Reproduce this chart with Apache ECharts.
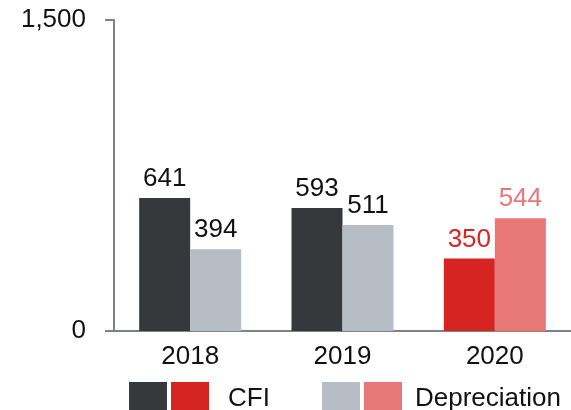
<!DOCTYPE html>
<html>
<head>
<meta charset="utf-8">
<script src="https://cdn.jsdelivr.net/npm/echarts@6/dist/echarts.min.js"></script>
<style>
  html, body { margin: 0; padding: 0; background: #fff; }
  #chart { width: 571px; height: 410px; }
</style>
</head>
<body>
<div id="chart"></div>
<script>
// Capital expenditure (CFI) vs depreciation by year
const years = ['2018', '2019', '2020'];
const cfiValues = [641, 593, 350];
const depreciationValues = [394, 511, 544];
const yTicks = [0, 1500];

// Bar fill per year: the latest year is highlighted in red tones
const cfiColors = ['#36393c', '#36393c', '#d62422'];
const depColors = ['#b6bdc4', '#b6bdc4', '#e87876'];
const cfiLabelColors = ['#111111', '#111111', '#d62422'];
const depLabelColors = ['#111111', '#111111', '#e87876'];

const FONT = 'Liberation Sans, Arial, sans-serif';
const AXIS_GREY = '#7f8286';

function items(values, fills, labelFills) {
  return values.map((v, i) => ({
    value: v,
    itemStyle: { color: fills[i] },
    label: { color: labelFills[i] }
  }));
}

const chart = echarts.init(document.getElementById('chart'), null, { renderer: 'canvas' });

// Legend: two swatches (regular year / latest year) followed by the series name
const legendEntries = [
  { colors: [cfiColors[0], cfiColors[2]], text: 'CFI', x: 129, textX: 228 },
  { colors: [depColors[0], depColors[2]], text: 'Depreciation', x: 322, textX: 415 }
];
const legendGraphics = [];
legendEntries.forEach(e => {
  e.colors.forEach((c, k) => {
    legendGraphics.push({
      type: 'rect', left: e.x + k * 42, top: 382,
      shape: { width: 38, height: 38 }, style: { fill: c }
    });
  });
  legendGraphics.push({
    type: 'text', left: e.textX, top: 386,
    style: { text: e.text, font: '26px ' + FONT, fill: '#111111' }
  });
});

chart.setOption({
  animation: false,
  grid: { left: 114, right: 0, top: 20, bottom: 79, containLabel: false, outerBoundsMode: 'none' },
  xAxis: {
    type: 'category',
    data: years,
    axisLine: { lineStyle: { color: AXIS_GREY, width: 2 } },
    axisTick: { show: false },
    axisLabel: { color: '#111111', fontFamily: FONT, fontSize: 26, margin: 13 }
  },
  yAxis: {
    type: 'value',
    min: yTicks[0],
    max: yTicks[yTicks.length - 1],
    interval: yTicks[1] - yTicks[0],
    splitLine: { show: false },
    axisLine: { show: true, lineStyle: { color: AXIS_GREY, width: 2 } },
    axisTick: { show: true, length: 9, lineStyle: { color: AXIS_GREY, width: 2 } },
    axisLabel: {
      color: '#111111', fontFamily: FONT, fontSize: 26, margin: 28,
      formatter: v => v.toLocaleString('en-US')
    }
  },
  series: [
    {
      name: 'CFI', type: 'bar', barWidth: 51, barGap: '0%',
      data: items(cfiValues, cfiColors, cfiLabelColors),
      label: { show: true, position: 'top', distance: 6, fontFamily: FONT, fontSize: 26 }
    },
    {
      name: 'Depreciation', type: 'bar', barWidth: 51, barGap: '0%',
      data: items(depreciationValues, depColors, depLabelColors),
      label: { show: true, position: 'top', distance: 6, fontFamily: FONT, fontSize: 26 }
    }
  ],
  graphic: legendGraphics
});
</script>
</body>
</html>
